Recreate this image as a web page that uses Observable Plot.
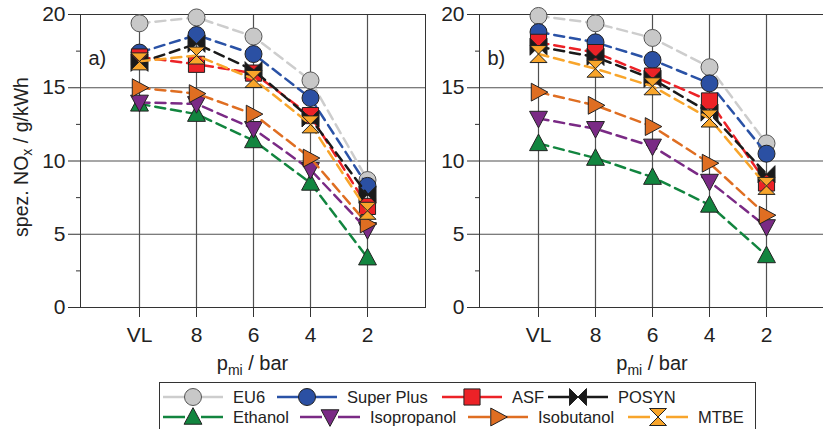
<!DOCTYPE html>
<html><head><meta charset="utf-8">
<script src="https://cdn.jsdelivr.net/npm/d3@7"></script>
<script src="https://cdn.jsdelivr.net/npm/@observablehq/plot@0.6"></script>
<style>
html,body{margin:0;padding:0;background:#fff;overflow:hidden}
#wrap{position:relative;width:823px;height:429px;overflow:hidden;font-family:"Liberation Sans",Arial,sans-serif}
#wrap > svg{position:absolute;top:0}
</style></head><body><div id="wrap"></div>
<script>
// ---- data ----
const categories = ["VL", "8", "6", "4", "2"];
const seriesNames = ["EU6", "Super Plus", "ASF", "POSYN", "Ethanol", "Isopropanol", "Isobutanol", "MTBE"];
const yTicks = [0, 5, 10, 15, 20];

// panel a)
const eu6A         = [19.4, 19.8, 18.5, 15.5, 8.7];
const superPlusA   = [17.4, 18.6, 17.3, 14.3, 8.3];
const asfA         = [17.1, 16.6, 16.0, 13.1, 6.9];
const posynA       = [16.7, 18.0, 16.2, 12.9, 7.7];
const ethanolA     = [13.9, 13.2, 11.4, 8.5, 3.4];
const isopropanolA = [14.0, 13.9, 12.2, 9.4, 5.3];
const isobutanolA  = [15.0, 14.6, 13.2, 10.2, 5.7];
const mtbeA        = [16.8, 17.2, 15.6, 12.5, 6.6];

// panel b)
const eu6B         = [19.9, 19.4, 18.4, 16.4, 11.2];
const superPlusB   = [18.8, 18.1, 16.9, 15.3, 10.5];
const asfB         = [18.1, 17.4, 15.8, 14.1, 8.5];
const posynB       = [17.8, 17.1, 15.6, 13.3, 9.1];
const ethanolB     = [11.2, 10.2, 8.9, 7.0, 3.55];
const isopropanolB = [12.9, 12.2, 11.0, 8.6, 5.5];
const isobutanolB  = [14.7, 13.8, 12.35, 9.85, 6.3];
const mtbeB        = [17.3, 16.3, 15.1, 12.9, 8.3];

const panelA = [eu6A, superPlusA, asfA, posynA, ethanolA, isopropanolA, isobutanolA, mtbeA];
const panelB = [eu6B, superPlusB, asfB, posynB, ethanolB, isopropanolB, isobutanolB, mtbeB];

// ---- styles ----
const FONT = '"Liberation Sans", Arial, sans-serif';
const fillColors = ["#c8c8c8", "#2b50a3", "#ec2227", "#1a1a1a", "#12853f", "#7a2a85", "#df6e22", "#f8a52b"];
const lineColors = ["#cdcdcd", "#2a52a6", "#ec2227", "#1a1a1a", "#12853f", "#7a2a85", "#df6e22", "#f8a52b"];
const outline = ["#555", "#222", "#222", "#222", "#222", "#222", "#222", "#222"];

const sym = (fn) => ({draw(ctx, size) { const r = Math.sqrt(size / Math.PI); fn(ctx, r); }});
const poly = (ctx, pts) => { ctx.moveTo(pts[0][0], pts[0][1]); for (let i = 1; i < pts.length; i++) ctx.lineTo(pts[i][0], pts[i][1]); ctx.closePath(); };
const circleS = sym((c, r) => { c.moveTo(r, 0); c.arc(0, 0, r, 0, 2 * Math.PI); c.closePath(); });
const squareS = sym((c, r) => { const h = 0.95 * r; poly(c, [[-h, -h], [h, -h], [h, h], [-h, h]]); });
const bowtieS = sym((c, r) => { poly(c, [[-r, -r], [0, 0], [-r, r]]); poly(c, [[r, -r], [0, 0], [r, r]]); });
const upS = sym((c, r) => poly(c, [[0, -1.1 * r], [1.05 * r, 0.85 * r], [-1.05 * r, 0.85 * r]]));
const downS = sym((c, r) => poly(c, [[0, 1.1 * r], [1.05 * r, -0.85 * r], [-1.05 * r, -0.85 * r]]));
const rightS = sym((c, r) => poly(c, [[1.1 * r, 0], [-0.85 * r, -1.05 * r], [-0.85 * r, 1.05 * r]]));
const hourS = sym((c, r) => { poly(c, [[-r, -r], [r, -r], [0, 0]]); poly(c, [[-r, r], [r, r], [0, 0]]); });
const symbols = [circleS, circleS, squareS, bowtieS, upS, downS, rightS, hourS];
const R = 8.5;

function makePanel(vals, label, width, marginLeft, marginRight) {
  const marks = [
    Plot.ruleY(yTicks, {stroke: "#505050", strokeWidth: 1.2}),
    Plot.ruleX(categories, {stroke: "#505050", strokeWidth: 1.2}),
    Plot.frame({stroke: "#333", strokeWidth: 1}),
    Plot.axisY({ticks: yTicks, tickSize: 12, tickPadding: 3, fontSize: 21, label: null, stroke: "#333"}),
    Plot.axisY({ticks: [2.5, 7.5, 12.5, 17.5], tickSize: 4, tickFormat: () => "", label: null, stroke: "#333"}),
    Plot.axisX({tickSize: 10, tickPadding: 10, fontSize: 21, label: null, stroke: "#333"}),
    Plot.text([label], {frameAnchor: "top-left", dx: 8, dy: 36, text: d => d, fontSize: 20, textAnchor: "start", fill: "#222"})
  ];
  seriesNames.forEach((name, i) => {
    const rows = categories.map((c, j) => ({c, v: vals[i][j]}));
    marks.push(Plot.line(rows, {x: "c", y: "v", stroke: lineColors[i], strokeWidth: 2.5, strokeDasharray: "10,6"}));
    marks.push(Plot.dot(rows, {x: "c", y: "v", r: R, symbol: symbols[i], fill: fillColors[i], stroke: outline[i], strokeWidth: 1}));
  });
  return Plot.plot({
    width, height: 375, marginLeft, marginRight, marginTop: 14, marginBottom: 68,
    x: {type: "point", domain: categories, padding: 1},
    y: {domain: [0, 20]},
    style: {fontFamily: FONT, fontSize: "21px", color: "#222", background: "transparent", overflow: "visible"},
    marks
  });
}

const wrap = document.getElementById("wrap");
const pa = makePanel(panelA, "a)", 430, 80, 5);
pa.style.left = "0px";
wrap.appendChild(pa);
const pb = makePanel(panelB, "b)", 395, 49, 0);
pb.style.left = "430px";
wrap.appendChild(pb);

// ---- overlay: axis titles + legend ----
const svg = d3.select(wrap).append("svg").attr("width", 823).attr("height", 429)
  .style("left", "0px").style("font-family", FONT).style("pointer-events", "none");

// y title
const yt = svg.append("text").attr("transform", "translate(28,157) rotate(-90)")
  .attr("text-anchor", "middle").attr("font-size", 19.5).attr("fill", "#222");
yt.append("tspan").text("spez. NO");
yt.append("tspan").attr("font-size", 14).attr("dy", 4).text("x");
yt.append("tspan").attr("dy", -4).text(" / g/kWh");

// x titles
[252.5, 652].forEach(cx => {
  const t = svg.append("text").attr("x", cx).attr("y", 370).attr("text-anchor", "middle")
    .attr("font-size", 20).attr("fill", "#222");
  t.append("tspan").text("p");
  t.append("tspan").attr("font-size", 14).attr("dy", 5).text("mi");
  t.append("tspan").attr("dy", -5).text(" / bar");
});

// legend
svg.append("rect").attr("x", 159.5).attr("y", 382.5).attr("width", 596).attr("height", 70)
  .attr("fill", "#fff").attr("stroke", "#333").attr("stroke-width", 1);
const legendLayout = [
  {row: 0, x0: 163}, {row: 0, x0: 277}, {row: 0, x0: 442}, {row: 0, x0: 548},
  {row: 1, x0: 163}, {row: 1, x0: 300}, {row: 1, x0: 468}, {row: 1, x0: 628}
];
const rowY = [397, 417];
seriesNames.forEach((name, i) => {
  const {row, x0} = legendLayout[i];
  const y = rowY[row];
  svg.append("line").attr("x1", x0).attr("x2", x0 + 60).attr("y1", y).attr("y2", y)
    .attr("stroke", lineColors[i]).attr("stroke-width", 2.5).attr("stroke-dasharray", "22,16");
  svg.append("path").attr("transform", `translate(${x0 + 30},${y})`)
    .attr("d", d3.symbol(symbols[i], R * R * Math.PI)())
    .attr("fill", fillColors[i]).attr("stroke", outline[i]).attr("stroke-width", 1);
  svg.append("text").attr("x", x0 + 70).attr("y", y).attr("dy", "0.35em")
    .attr("font-size", 16.5).attr("fill", "#222").text(name);
});
</script></body></html>
